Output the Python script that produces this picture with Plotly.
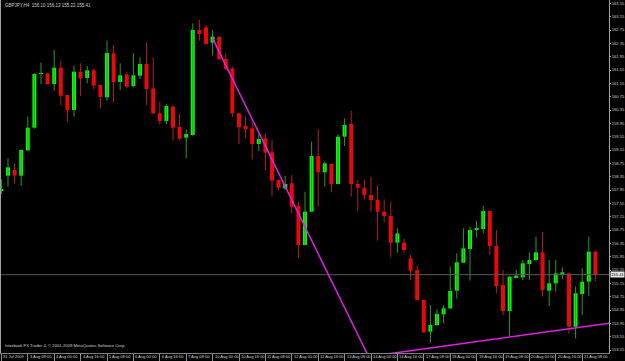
import plotly.graph_objects as go

# ---------------- data (GBPJPY H4) ----------------
bar_index = list(range(91))
opens = [157.93, 158.38, 158.55, 158.38, 159.14, 159.82, 161.43, 161.45, 161.13, 161.62,
         160.80, 160.35, 161.49, 161.31, 161.54, 161.10, 160.73, 162.05, 161.19, 161.42,
         161.07, 161.38, 161.73, 161.00, 160.25, 160.02, 160.45, 159.84, 159.52, 159.60,
         162.75, 162.83, 162.37, 162.55, 161.88, 161.60, 160.25, 159.87, 159.80, 159.33,
         159.50, 159.08, 158.25, 158.00, 158.15, 157.47, 156.30, 157.30, 158.97, 158.48,
         158.73, 158.13, 159.55, 159.93, 158.13, 158.02, 157.80, 157.65, 157.30, 157.17,
         156.37, 156.37, 155.90, 155.55, 154.65, 153.70, 153.90, 154.22, 154.40, 154.93,
         155.77, 156.18, 156.75, 156.78, 157.32, 156.27, 155.10, 154.32, 155.33, 155.33,
         155.73, 155.85, 156.08, 154.93, 155.15, 155.42, 155.45, 153.85, 154.83, 155.20,
         156.10]
highs = [158.27, 158.90, 158.75, 159.17, 160.15, 161.45, 161.77, 161.47, 162.15, 161.83,
         160.80, 161.68, 161.75, 161.67, 161.60, 161.10, 162.43, 162.30, 161.75, 161.50,
         162.05, 161.93, 162.37, 161.93, 160.60, 160.52, 160.50, 160.23, 159.77, 162.95,
         163.05, 162.90, 162.75, 162.55, 162.05, 161.65, 160.27, 160.15, 160.00, 159.65,
         159.65, 159.45, 158.27, 158.37, 158.40, 157.60, 157.90, 159.40, 159.77, 158.80,
         158.73, 159.62, 160.10, 160.33, 158.25, 158.27, 158.35, 158.10, 157.67, 157.60,
         156.80, 156.50, 156.00, 155.67, 154.67, 154.50, 154.37, 154.50, 155.65, 156.05,
         156.80, 156.85, 157.03, 157.47, 157.32, 156.75, 155.55, 155.37, 155.55, 155.85,
         156.08, 156.55, 156.69, 155.85, 155.85, 155.63, 155.45, 155.05, 155.60, 156.55,
         156.13]
lows = [157.83, 158.05, 158.15, 158.08, 159.12, 159.79, 161.13, 161.13, 160.93, 160.50,
        160.00, 160.15, 160.77, 161.15, 160.97, 160.40, 160.63, 160.57, 160.95, 161.00,
        161.03, 161.28, 160.50, 160.23, 159.92, 159.92, 159.43, 159.45, 158.90, 159.58,
        162.43, 162.30, 161.98, 161.85, 161.55, 160.15, 159.33, 159.50, 158.87, 159.12,
        158.55, 157.77, 157.95, 157.95, 157.25, 155.90, 156.30, 157.30, 157.45, 158.05,
        157.88, 158.13, 159.27, 157.75, 157.32, 157.67, 157.30, 156.43, 156.98, 155.93,
        156.07, 156.07, 155.25, 154.63, 153.65, 153.37, 153.87, 153.95, 154.37, 154.70,
        155.77, 155.23, 156.53, 156.65, 156.00, 154.85, 154.20, 153.55, 155.30, 155.25,
        155.25, 155.80, 154.75, 154.47, 154.90, 155.27, 153.65, 153.50, 154.20, 154.77,
        155.22]
closes = [157.98, 158.63, 158.38, 159.15, 159.82, 161.43, 161.45, 161.13, 161.62, 160.78,
          160.34, 161.50, 161.30, 161.54, 161.08, 160.74, 162.06, 161.18, 161.39, 161.05,
          161.39, 161.73, 160.98, 160.25, 160.02, 160.47, 159.82, 159.49, 159.63, 162.75,
          162.63, 162.33, 162.55, 161.88, 161.58, 160.25, 159.83, 159.77, 159.33, 159.48,
          159.07, 158.23, 158.02, 158.13, 157.45, 156.30, 157.30, 158.97, 158.48, 158.75,
          158.13, 159.55, 159.90, 158.13, 158.02, 157.80, 157.65, 157.30, 157.17, 156.37,
          156.65, 156.15, 155.53, 154.65, 153.68, 153.90, 154.23, 154.40, 154.92, 155.78,
          156.20, 156.75, 156.80, 157.32, 156.27, 155.07, 154.32, 155.35, 155.38, 155.75,
          155.85, 156.08, 154.95, 155.15, 155.45, 155.48, 153.85, 154.85, 155.20, 156.10,
          155.41]

date_tick_bars = [0, 4, 8, 12, 16, 20, 24, 28, 32, 36, 40, 44, 48, 52, 56, 60, 64, 68, 72, 76, 80, 84, 88]
date_tick_labels = ["31 Jul 2009", "3 Aug 08:00", "4 Aug 00:00", "4 Aug 16:00", "5 Aug 08:00",
                    "6 Aug 00:00", "6 Aug 16:00", "7 Aug 08:00", "10 Aug 00:00", "10 Aug 16:00",
                    "11 Aug 08:00", "12 Aug 00:00", "12 Aug 16:00", "13 Aug 08:00", "14 Aug 00:00",
                    "14 Aug 16:00", "17 Aug 08:00", "18 Aug 00:00", "18 Aug 16:00", "19 Aug 08:00",
                    "20 Aug 00:00", "20 Aug 16:00", "21 Aug 08:00"]
price_ticks = [163.55, 163.15, 162.75, 162.35, 161.95, 161.55, 161.15, 160.75, 160.35, 159.95,
               159.55, 159.15, 158.75, 158.35, 157.95, 157.55, 157.15, 156.75, 156.35, 155.95,
               155.55, 155.15, 154.75, 154.35, 153.95, 153.55, 153.15]

current_price = 155.41
trend1_x = [32, 60]
trend1_y = [162.50, 151.19]
trend2_x = [50, 95]
trend2_y = [152.80, 154.03]

title_text = "GBPJPY,H4  156.10 156.13 155.22 155.41"
copyright_text = "Interbank FX Trader 4, \u00a9 2001-2009 MetaQuotes Software Corp."

# ---------------- styling ----------------
UP = "#00FF00"
DOWN = "#FF0000"
UP_WICK = "#2a9a2a"
DOWN_WICK = "#b02020"
TXT = "#d0d0d0"
FONT = "Liberation Sans"

fig = go.Figure()

# wicks
for up, col in ((True, UP_WICK), (False, DOWN_WICK)):
    wx, wy = [], []
    for i, o, h, l, c in zip(bar_index, opens, highs, lows, closes):
        if (c >= o) == up:
            wx += [i, i, None]
            wy += [l, h, None]
    fig.add_trace(go.Scatter(x=wx, y=wy, mode="lines", line=dict(color=col, width=1),
                             hoverinfo="skip", showlegend=False))

# bodies
for up, col in ((True, UP), (False, DOWN)):
    bx, bb, bh = [], [], []
    for i, o, c in zip(bar_index, opens, closes):
        if (c >= o) == up:
            bx.append(i)
            bb.append(min(o, c))
            bh.append(max(abs(c - o), 0.03))
    fig.add_trace(go.Bar(x=bx, y=bh, base=bb, width=0.6, marker=dict(color=col, line=dict(width=0)),
                         showlegend=False, hoverinfo="skip"))

# current price line
fig.add_trace(go.Scatter(x=[-1, 93], y=[current_price, current_price], mode="lines",
                         line=dict(color="#5a5a5a", width=1), hoverinfo="skip", showlegend=False))

# trendlines
fig.add_trace(go.Scatter(x=trend1_x, y=trend1_y, mode="lines", line=dict(color="#E020E0", width=1.5),
                         hoverinfo="skip", showlegend=False))
fig.add_trace(go.Scatter(x=trend2_x, y=trend2_y, mode="lines", line=dict(color="#E020E0", width=1.5),
                         hoverinfo="skip", showlegend=False))

annotations = [
    dict(xref="paper", yref="paper", x=0.004, y=0.997, xanchor="left", yanchor="top",
         text=title_text, showarrow=False, font=dict(size=4.5, color=TXT, family=FONT)),
    dict(xref="paper", yref="paper", x=0.004, y=0.008, xanchor="left", yanchor="bottom",
         text=copyright_text, showarrow=False, font=dict(size=4.2, color=TXT, family=FONT)),
    dict(xref="paper", yref="y", x=1, y=current_price, xanchor="left", yanchor="middle", xshift=1,
         text=f"{current_price:.2f}", showarrow=False, bgcolor="#e8e8e8", borderpad=0,
         font=dict(size=4.2, color="black", family=FONT)),
]
for b, lab in zip(date_tick_bars, date_tick_labels):
    annotations.append(dict(xref="x", yref="paper", x=b, y=0, xanchor="left", yanchor="top",
                            xshift=1, yshift=0, text=lab, showarrow=False, borderpad=0,
                            font=dict(size=4, color=TXT, family=FONT)))

fig.update_layout(
    width=625, height=361,
    margin=dict(l=1, r=16, t=0, b=8, autoexpand=False),
    paper_bgcolor="black", plot_bgcolor="black",
    barmode="overlay",
    showlegend=False,
    font=dict(family=FONT, color=TXT, size=4),
    xaxis=dict(range=[-0.06, 92.06], tickmode="array", tickvals=date_tick_bars, showticklabels=False,
               ticks="outside", ticklen=7, tickcolor="#909090", showgrid=False, zeroline=False,
               showline=True, linecolor="#808080", linewidth=1, mirror=True, automargin=False, fixedrange=True),
    yaxis=dict(range=[153.06, 163.65], side="right", tickmode="array", tickvals=price_ticks,
               tickformat=".2f", ticks="outside", ticklen=1, tickcolor="#a0a0a0",
               tickfont=dict(size=4.1, color=TXT, family=FONT), showgrid=False, zeroline=False,
               showline=True, linecolor="#a0a0a0", linewidth=1, mirror=True, automargin=False, fixedrange=True),
    annotations=annotations,
)

fig.write_html("out.html", config={"displayModeBar": False})
